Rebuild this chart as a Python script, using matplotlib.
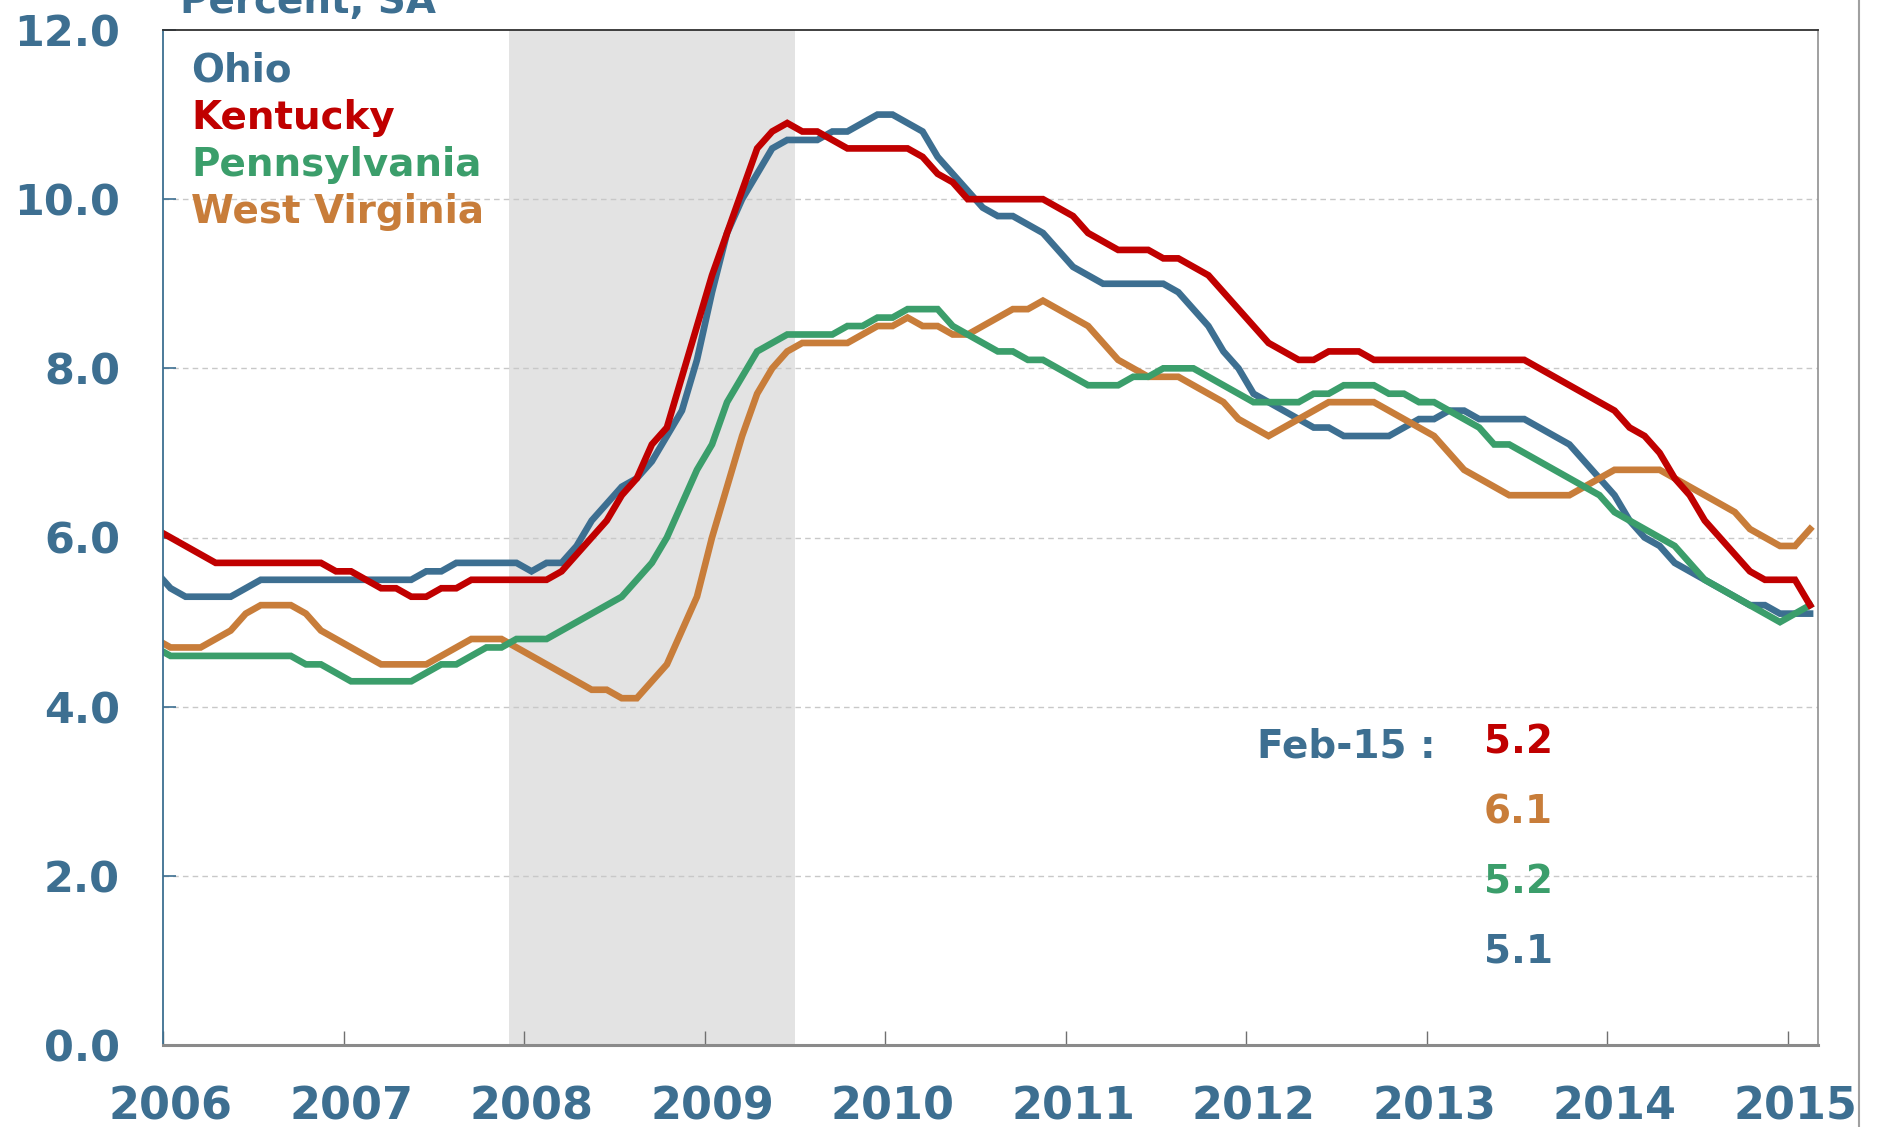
"""Unemployment rates: Ohio, Kentucky, Pennsylvania, West Virginia (2006-2015)."""

import matplotlib
matplotlib.use("Agg")
import matplotlib.pyplot as plt
from matplotlib.lines import Line2D
import numpy as np

# monthly, Dec 2005 .. Feb 2015 (percent, SA)
ohio = [5.6,
        5.4, 5.3, 5.3, 5.3, 5.3, 5.4, 5.5, 5.5, 5.5, 5.5, 5.5, 5.5,
        5.5, 5.5, 5.5, 5.5, 5.5, 5.6, 5.6, 5.7, 5.7, 5.7, 5.7, 5.7,
        5.6, 5.7, 5.7, 5.9, 6.2, 6.4, 6.6, 6.7, 6.9, 7.2, 7.5, 8.1,
        8.9, 9.6, 10.0, 10.3, 10.6, 10.7, 10.7, 10.7, 10.8, 10.8, 10.9, 11.0,
        11.0, 10.9, 10.8, 10.5, 10.3, 10.1, 9.9, 9.8, 9.8, 9.7, 9.6, 9.4,
        9.2, 9.1, 9.0, 9.0, 9.0, 9.0, 9.0, 8.9, 8.7, 8.5, 8.2, 8.0,
        7.7, 7.6, 7.5, 7.4, 7.3, 7.3, 7.2, 7.2, 7.2, 7.2, 7.3, 7.4,
        7.4, 7.5, 7.5, 7.4, 7.4, 7.4, 7.4, 7.3, 7.2, 7.1, 6.9, 6.7,
        6.5, 6.2, 6.0, 5.9, 5.7, 5.6, 5.5, 5.4, 5.3, 5.2, 5.2, 5.1,
        5.1, 5.1]
kentucky = [6.1,
            6.0, 5.9, 5.8, 5.7, 5.7, 5.7, 5.7, 5.7, 5.7, 5.7, 5.7, 5.6,
            5.6, 5.5, 5.4, 5.4, 5.3, 5.3, 5.4, 5.4, 5.5, 5.5, 5.5, 5.5,
            5.5, 5.5, 5.6, 5.8, 6.0, 6.2, 6.5, 6.7, 7.1, 7.3, 7.9, 8.5,
            9.1, 9.6, 10.1, 10.6, 10.8, 10.9, 10.8, 10.8, 10.7, 10.6, 10.6, 10.6,
            10.6, 10.6, 10.5, 10.3, 10.2, 10.0, 10.0, 10.0, 10.0, 10.0, 10.0, 9.9,
            9.8, 9.6, 9.5, 9.4, 9.4, 9.4, 9.3, 9.3, 9.2, 9.1, 8.9, 8.7,
            8.5, 8.3, 8.2, 8.1, 8.1, 8.2, 8.2, 8.2, 8.1, 8.1, 8.1, 8.1,
            8.1, 8.1, 8.1, 8.1, 8.1, 8.1, 8.1, 8.0, 7.9, 7.8, 7.7, 7.6,
            7.5, 7.3, 7.2, 7.0, 6.7, 6.5, 6.2, 6.0, 5.8, 5.6, 5.5, 5.5,
            5.5, 5.2]
pennsylvania = [4.7,
                4.6, 4.6, 4.6, 4.6, 4.6, 4.6, 4.6, 4.6, 4.6, 4.5, 4.5, 4.4,
                4.3, 4.3, 4.3, 4.3, 4.3, 4.4, 4.5, 4.5, 4.6, 4.7, 4.7, 4.8,
                4.8, 4.8, 4.9, 5.0, 5.1, 5.2, 5.3, 5.5, 5.7, 6.0, 6.4, 6.8,
                7.1, 7.6, 7.9, 8.2, 8.3, 8.4, 8.4, 8.4, 8.4, 8.5, 8.5, 8.6,
                8.6, 8.7, 8.7, 8.7, 8.5, 8.4, 8.3, 8.2, 8.2, 8.1, 8.1, 8.0,
                7.9, 7.8, 7.8, 7.8, 7.9, 7.9, 8.0, 8.0, 8.0, 7.9, 7.8, 7.7,
                7.6, 7.6, 7.6, 7.6, 7.7, 7.7, 7.8, 7.8, 7.8, 7.7, 7.7, 7.6,
                7.6, 7.5, 7.4, 7.3, 7.1, 7.1, 7.0, 6.9, 6.8, 6.7, 6.6, 6.5,
                6.3, 6.2, 6.1, 6.0, 5.9, 5.7, 5.5, 5.4, 5.3, 5.2, 5.1, 5.0,
                5.1, 5.2]
west_virginia = [4.8,
                 4.7, 4.7, 4.7, 4.8, 4.9, 5.1, 5.2, 5.2, 5.2, 5.1, 4.9, 4.8,
                 4.7, 4.6, 4.5, 4.5, 4.5, 4.5, 4.6, 4.7, 4.8, 4.8, 4.8, 4.7,
                 4.6, 4.5, 4.4, 4.3, 4.2, 4.2, 4.1, 4.1, 4.3, 4.5, 4.9, 5.3,
                 6.0, 6.6, 7.2, 7.7, 8.0, 8.2, 8.3, 8.3, 8.3, 8.3, 8.4, 8.5,
                 8.5, 8.6, 8.5, 8.5, 8.4, 8.4, 8.5, 8.6, 8.7, 8.7, 8.8, 8.7,
                 8.6, 8.5, 8.3, 8.1, 8.0, 7.9, 7.9, 7.9, 7.8, 7.7, 7.6, 7.4,
                 7.3, 7.2, 7.3, 7.4, 7.5, 7.6, 7.6, 7.6, 7.6, 7.5, 7.4, 7.3,
                 7.2, 7.0, 6.8, 6.7, 6.6, 6.5, 6.5, 6.5, 6.5, 6.5, 6.6, 6.7,
                 6.8, 6.8, 6.8, 6.8, 6.7, 6.6, 6.5, 6.4, 6.3, 6.1, 6.0, 5.9,
                 5.9, 6.1]

states = ["Ohio", "Kentucky", "Pennsylvania", "West Virginia"]
latest_label = "Feb-15 :"
latest_order = ["Kentucky", "West Virginia", "Pennsylvania", "Ohio"]
years = list(range(2006, 2016))
recession = (2007 + 11 / 12, 2009.5)

BLUE = "#3D6F91"
RED = "#C00000"
GREEN = "#3B9E6B"
ORANGE = "#C87D3A"
colors = {"Ohio": BLUE, "Kentucky": RED, "Pennsylvania": GREEN,
          "West Virginia": ORANGE}
series = {"Ohio": ohio, "Kentucky": kentucky, "Pennsylvania": pennsylvania,
          "West Virginia": west_virginia}

# mid-month positions, first point is Dec 2005
x = 2006 + (np.arange(len(ohio)) - 1 + 0.5) / 12

plt.rcParams["font.family"] = "DejaVu Sans"
fig = plt.figure(figsize=(18.77, 11.27), dpi=100)
ax = fig.add_axes([163 / 1877, 82 / 1127, (1818 - 163) / 1877, (1045 - 30) / 1127])

ax.axvspan(*recession, color="#E3E3E3", lw=0, zorder=0)
for y in [2, 4, 6, 8, 10]:
    ax.axhline(y, color="#C8C8C8", lw=1, ls=(0, (4, 3)), zorder=0.5)

for name in ["Ohio", "West Virginia", "Pennsylvania", "Kentucky"]:
    ax.plot(x, series[name], color=colors[name], lw=4.8, zorder=2,
            solid_joinstyle="miter")

ax.set_xlim(2006, 2006 + (1818 - 163) / 180.5)
ax.set_ylim(0, 12)

ax.set_yticks(np.arange(0, 12.1, 2))
ax.set_yticklabels([f"{v:.1f}" for v in np.arange(0, 12.1, 2)])
ax.tick_params(axis="y", direction="in", length=9, width=1.2, color=BLUE,
               labelsize=31, labelcolor=BLUE, pad=31)
ax.set_xticks(years)
ax.set_xticklabels([])
ax.tick_params(axis="x", which="major", direction="in", length=10, width=1,
               color="#707070")
ax.set_xticks([yr + 0.5 / 12 for yr in years], minor=True)
ax.set_xticklabels([str(yr) for yr in years], minor=True)
ax.tick_params(axis="x", which="minor", length=0, labelsize=32,
               labelcolor=BLUE, pad=29)
for lab in ax.get_xticklabels(minor=True) + ax.get_yticklabels():
    lab.set_fontweight("bold")

ax.spines["left"].set_color(BLUE)
ax.spines["left"].set_linewidth(1.3)
ax.spines["top"].set_color("#303030")
ax.spines["top"].set_linewidth(1.3)
ax.spines["right"].set_color("#909090")
ax.spines["right"].set_linewidth(1.2)
ax.spines["bottom"].set_color("#8A8A8A")
ax.spines["bottom"].set_linewidth(2.2)

# unit label, partly cut at the top as in the source
fig.text(180 / 1877, 1 - 13 / 1127, "Percent, SA", color=BLUE, fontsize=28,
         fontweight="bold", ha="left", va="baseline")

# state legend
for i, name in enumerate(states):
    fig.text(191 / 1877, 1 - (82 + 47 * i) / 1127, name, color=colors[name],
             fontsize=28, fontweight="bold", ha="left", va="baseline")

# latest values
fig.text(1436 / 1877, 1 - 758 / 1127, latest_label, color=BLUE, fontsize=28,
         fontweight="bold", ha="right", va="baseline")
for i, name in enumerate(latest_order):
    fig.text(1484 / 1877, 1 - (754 + 69.5 * i) / 1127, f"{series[name][-1]:.1f}",
             color=colors[name], fontsize=28, fontweight="bold", ha="left",
             va="baseline")

fig.add_artist(Line2D([1859 / 1877] * 2, [0.0, 1.0], color="#A0A0A0", lw=1.5))

fig.savefig("out.png", dpi=100)
plt.close(fig)
